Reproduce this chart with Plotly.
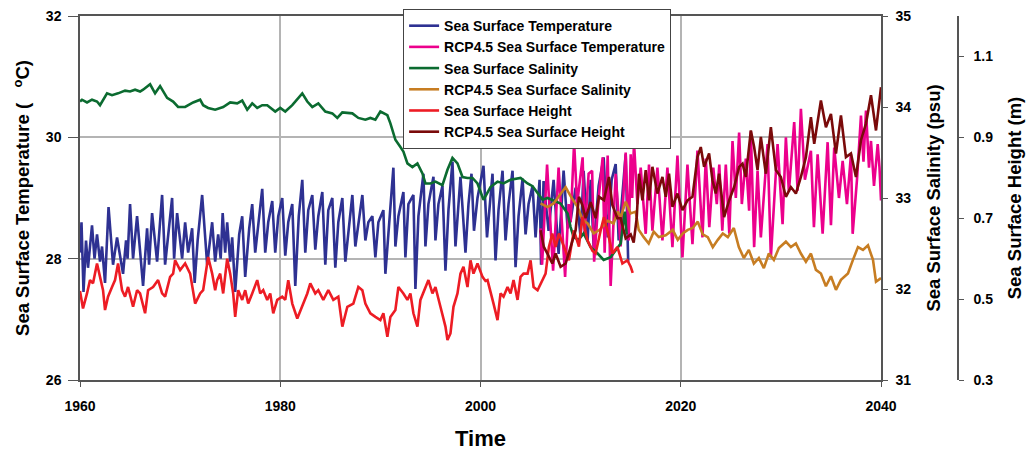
import plotly.graph_objects as go

# ---------------- data ----------------
sst_year = [1960.0, 1960.15, 1960.35, 1960.6, 1960.8, 1961.2, 1961.45, 1961.7, 1962.0, 1962.2, 1962.5, 1962.85,
            1963.3, 1963.7, 1964.3, 1964.6, 1964.75, 1965.0, 1965.3, 1965.7, 1966.3, 1966.7, 1966.9, 1967.2,
            1967.7, 1968.2, 1968.5, 1968.9, 1969.2, 1969.4, 1969.7, 1970.2, 1970.5, 1970.8, 1971.2, 1971.45,
            1971.75, 1972.2, 1972.7, 1973.2, 1973.5, 1973.8, 1974.05, 1974.25, 1974.5, 1974.7, 1975.0, 1975.2,
            1975.5, 1975.9, 1976.2, 1976.5, 1976.9, 1977.2, 1977.5, 1977.8, 1978.2, 1978.5, 1978.8, 1979.2,
            1979.5, 1979.8, 1980.2, 1980.5, 1980.8, 1981.2, 1981.5, 1981.85, 1982.2, 1982.5, 1982.8, 1983.2,
            1983.5, 1983.8, 1984.2, 1984.5, 1984.8, 1985.2, 1985.5, 1985.8, 1986.2, 1986.5, 1986.8, 1987.2,
            1987.5, 1987.8, 1988.2, 1988.5, 1988.8, 1989.2, 1989.5, 1989.8, 1990.3, 1990.5, 1990.9, 1991.3,
            1991.5, 1991.8, 1992.3, 1992.5, 1992.8, 1993.3, 1993.5, 1993.8, 1994.3, 1994.5, 1994.8, 1995.3,
            1995.5, 1995.8, 1996.2, 1996.5, 1996.8, 1997.2, 1997.5, 1997.8, 1998.0, 1998.5, 1998.8, 1999.1,
            1999.35, 1999.7, 2000.3, 2000.65, 2000.9, 2001.2, 2001.5, 2001.8, 2002.2, 2002.5, 2002.8, 2003.2,
            2003.5, 2003.8, 2004.2, 2004.5, 2004.8, 2005.2, 2005.5, 2005.9, 2006.05, 2006.3, 2006.8, 2007.3,
            2007.8, 2008.3, 2008.7, 2009.0, 2009.5, 2010.0, 2010.3, 2010.7, 2011.0, 2011.3, 2011.8, 2012.3,
            2012.7, 2013.1, 2013.5, 2013.8, 2014.5, 2014.75]
sst_val = [28.1, 28.6, 27.45, 28.3, 27.85, 28.55, 28.0, 28.4, 27.95, 28.2, 27.6, 28.85,
           27.9, 28.35, 27.75, 28.3, 28.0, 28.9, 28.0, 28.7, 27.55, 28.5, 27.9, 28.75,
           27.95, 29.05, 27.9, 28.6, 29.0, 28.0, 28.75, 28.0, 28.6, 28.1, 28.5, 27.6,
           28.3, 29.05, 27.9, 28.6, 27.95, 28.4, 28.0, 28.75, 28.1, 28.6, 27.95, 28.35,
           27.45, 28.4, 28.7, 27.7, 28.5, 28.9, 28.1, 28.55, 29.15, 28.1, 28.6, 28.95,
           28.1, 28.7, 29.0, 28.05, 28.6, 28.9, 27.55, 28.7, 29.3, 28.1, 28.8, 29.05,
           28.15, 28.7, 29.1, 27.9, 28.8, 29.0, 27.85, 28.6, 29.0, 27.95, 28.4, 29.05,
           28.2, 28.6, 29.05, 28.3, 28.6, 28.7, 28.02, 28.6, 28.8, 27.75, 28.6, 29.5,
           28.2, 28.7, 29.1, 28.02, 28.9, 29.05, 27.5, 28.7, 29.4, 28.2, 28.9, 29.35,
           28.3, 28.9, 29.2, 27.8, 28.8, 29.6, 28.2, 29.0, 29.35, 28.1, 28.9, 29.4,
           28.46, 29.0, 29.53, 28.35, 28.9, 29.4, 27.97, 28.8, 29.45, 28.3, 28.9, 29.45,
           27.86, 28.7, 29.32, 28.4, 28.9, 29.2, 28.35, 29.3, 27.9, 29.28, 28.46, 29.3,
           28.08, 29.45, 28.5, 28.63, 29.17, 28.35, 29.45, 28.3, 29.3, 28.19, 29.2, 29.67,
           28.35, 29.3, 29.56, 28.3, 29.72, 27.95]

rcp_sst_year = [2006.0, 2006.15, 2006.65, 2007.25, 2007.8, 2008.45, 2008.8, 2009.0, 2009.35, 2009.65, 2010.2,
                2010.4, 2010.8, 2011.15, 2011.35, 2011.8, 2012.2, 2012.4, 2012.7, 2013.0, 2013.5, 2014.0,
                2014.5, 2014.8, 2015.0, 2015.15, 2015.33, 2015.67, 2016.0, 2016.5, 2016.83, 2017.17, 2017.67,
                2018.17, 2018.67, 2019.17, 2019.67, 2020.17, 2020.67, 2021.17, 2021.67, 2022.17, 2022.5,
                2022.85, 2023.25, 2023.6, 2023.85, 2024.15, 2024.5, 2024.85, 2025.17, 2025.5, 2025.83,
                2026.1, 2026.5, 2026.83, 2027.0, 2027.33, 2027.67, 2028.0, 2028.67, 2029.0, 2029.67,
                2030.17, 2030.5, 2030.8, 2031.33, 2031.67, 2032.0, 2032.4, 2033.0, 2033.3, 2033.67,
                2034.17, 2034.67, 2035.0, 2035.33, 2035.8, 2036.17, 2036.6, 2037.0, 2037.17, 2037.6,
                2038.0, 2038.25, 2038.5, 2038.8, 2039.0, 2039.3, 2039.67, 2039.85, 2040.0]
rcp_sst_val = [28.5, 27.9, 29.55, 27.8, 29.5, 27.7, 28.9, 28.6, 29.92, 28.9, 29.67,
               28.41, 29.4, 29.45, 27.95, 29.0, 29.67, 28.1, 29.7, 27.55, 29.4, 28.2,
               29.75, 28.3, 29.72, 29.0, 29.92, 28.9, 29.5, 28.41, 29.55, 28.46, 29.5,
               28.3, 29.5, 28.19, 29.7, 28.02, 29.55, 28.24, 29.78, 28.35, 29.65,
               28.52, 29.5, 28.9, 29.55, 28.46, 29.55, 28.41, 29.94, 29.0, 30.08,
               28.9, 29.65, 28.79, 30.1, 28.19, 29.45, 28.35, 29.89, 28.02, 29.89,
               28.57, 30.0, 29.1, 30.25, 29.12, 30.47, 29.3, 29.78, 28.52, 29.72,
               28.41, 29.92, 28.55, 29.83, 29.0, 29.61, 28.9, 29.72, 28.41, 29.3,
               30.36, 29.6, 30.44, 29.5, 29.94, 29.2, 29.89, 29.5, 28.96]

sal_year = [1960.0, 1960.2, 1960.7, 1961.2, 1961.7, 1962.0, 1962.7, 1963.2, 1963.8, 1964.5, 1965.0, 1965.5,
            1966.0, 1966.3, 1967.0, 1967.5, 1968.0, 1968.7, 1969.3, 1969.8, 1970.5, 1971.3, 1972.0, 1972.3,
            1972.8, 1973.5, 1974.3, 1975.0, 1975.7, 1976.2, 1976.7, 1977.2, 1977.7, 1978.2, 1978.7, 1979.5,
            1980.0, 1980.5, 1981.2, 1981.7, 1982.2, 1982.7, 1983.2, 1983.8, 1984.5, 1985.2, 1985.7, 1986.2,
            1986.8, 1987.2, 1987.8, 1988.5, 1989.0, 1989.5, 1990.0, 1990.7, 1991.0, 1991.5, 1992.0, 1992.3,
            1992.7, 1993.2, 1993.7, 1994.2, 1994.5, 1995.0, 1995.5, 1996.2, 1996.7, 1997.2, 1997.7, 1998.2,
            1998.7, 1999.2, 1999.7, 2000.3, 2001.0, 2001.7, 2002.3, 2003.0, 2004.0, 2004.7, 2005.2, 2005.7,
            2006.2, 2006.7, 2007.3, 2008.0, 2008.7, 2009.0, 2009.3, 2009.8, 2010.3, 2011.0, 2011.7, 2012.3,
            2013.0, 2013.7, 2014.0, 2014.4, 2014.6]
sal_val = [34.06, 34.08, 34.05, 34.08, 34.06, 34.02, 34.15, 34.13, 34.15, 34.18, 34.17, 34.19,
           34.17, 34.19, 34.25, 34.15, 34.23, 34.1, 34.06, 34.0, 34.0, 34.05, 34.08, 34.02,
           33.99, 33.97, 34.0, 34.05, 34.04, 34.07, 33.97, 34.04, 33.99, 34.02, 34.02, 33.95,
           33.99, 33.95, 34.02, 34.08, 34.15, 34.06, 34.0, 34.04, 33.95, 33.93, 33.88, 33.94,
           33.93, 33.93, 33.88, 33.86, 33.88, 33.86, 33.95, 33.91, 33.82, 33.64, 33.56, 33.51,
           33.38, 33.34, 33.38, 33.27, 33.16, 33.16, 33.18, 33.14, 33.31, 33.44, 33.38, 33.23,
           33.22, 33.22, 33.16, 32.98, 33.12, 33.18, 33.16, 33.2, 33.22, 33.16, 33.13, 33.05,
           32.98, 33.0, 32.97, 32.94, 32.83, 32.68, 32.57, 32.54, 32.61, 32.46, 32.39, 32.32,
           32.35, 32.45, 32.5, 32.85, 32.6]

rcp_sal_year = [2006.0, 2006.7, 2007.3, 2008.0, 2008.5, 2009.0, 2009.7, 2010.2, 2010.7, 2011.3, 2011.9,
                2012.7, 2013.3, 2013.7, 2014.0, 2014.5, 2015.0, 2015.5, 2015.8, 2016.3, 2016.8, 2017.3,
                2017.8, 2018.5, 2019.2, 2019.7, 2020.2, 2020.7, 2021.2, 2021.7, 2022.2, 2022.7, 2023.2,
                2023.7, 2024.2, 2024.7, 2025.3, 2025.8, 2026.3, 2026.8, 2027.3, 2027.8, 2028.3, 2028.8,
                2029.3, 2029.8, 2030.5, 2031.0, 2031.5, 2032.0, 2032.5, 2033.0, 2033.5, 2034.0, 2034.5,
                2035.0, 2035.5, 2036.0, 2036.7, 2037.2, 2037.7, 2038.2, 2038.7, 2039.2, 2039.5, 2040.0]
rcp_sal_val = [32.94, 32.9, 32.94, 33.05, 33.12, 33.02, 32.9, 32.76, 32.72, 32.61, 32.65,
               32.75, 32.72, 32.85, 32.79, 32.96, 32.83, 32.85, 32.65, 32.57, 32.5, 32.63,
               32.57, 32.59, 32.65, 32.54, 32.61, 32.65, 32.67, 32.74, 32.6, 32.57, 32.46,
               32.54, 32.61, 32.57, 32.67, 32.46, 32.34, 32.43, 32.28, 32.34, 32.23, 32.39,
               32.32, 32.45, 32.52, 32.46, 32.5, 32.39, 32.3, 32.39, 32.21, 32.17, 32.03,
               32.14, 31.99, 32.1, 32.17, 32.32, 32.46, 32.43, 32.48, 32.32, 32.08, 32.12]

ssh_year = [1960.0, 1960.3, 1960.7, 1961.0, 1961.3, 1961.7, 1962.0, 1962.3, 1962.5, 1962.8, 1963.2, 1963.5,
            1963.8, 1964.2, 1964.5, 1964.8, 1965.3, 1965.7, 1966.0, 1966.5, 1966.8, 1967.3, 1967.8, 1968.2,
            1968.5, 1969.0, 1969.3, 1969.5, 1970.0, 1970.5, 1971.0, 1971.5, 1972.0, 1972.3, 1972.8, 1973.2,
            1973.5, 1973.7, 1974.0, 1974.3, 1974.7, 1975.0, 1975.3, 1975.5, 1975.8, 1976.2, 1976.5, 1976.8,
            1977.2, 1977.7, 1978.0, 1978.3, 1978.7, 1979.0, 1979.3, 1979.7, 1980.2, 1980.5, 1980.8, 1981.2,
            1981.7, 1982.2, 1982.7, 1983.0, 1983.5, 1983.8, 1984.3, 1984.8, 1985.3, 1985.8, 1986.2, 1986.7,
            1987.3, 1987.8, 1988.2, 1988.5, 1989.0, 1989.5, 1990.0, 1990.3, 1990.7, 1991.0, 1991.5, 1991.8,
            1992.3, 1992.7, 1993.0, 1993.3, 1993.7, 1994.0, 1994.5, 1994.8, 1995.2, 1995.5, 1996.0, 1996.5,
            1996.7, 1997.0, 1997.3, 1997.7, 1998.0, 1998.3, 1998.7, 1999.0, 1999.3, 1999.7, 2000.2, 2000.5,
            2000.7, 2001.0, 2001.3, 2001.7, 2002.0, 2002.3, 2002.7, 2003.0, 2003.3, 2003.7, 2004.0, 2004.3,
            2004.7, 2005.0, 2005.3, 2005.7, 2006.0, 2006.5, 2006.83, 2007.17, 2007.5, 2007.83, 2008.33,
            2008.83, 2009.33, 2009.83, 2010.17, 2010.67, 2011.17, 2011.5, 2012.0, 2012.33, 2012.67, 2013.17,
            2013.67, 2014.17, 2014.67, 2015.0, 2015.2]
ssh_val = [0.52, 0.477, 0.514, 0.547, 0.539, 0.588, 0.555, 0.522, 0.473, 0.506, 0.53, 0.547,
           0.588, 0.522, 0.506, 0.53, 0.481, 0.522, 0.514, 0.465, 0.522, 0.53, 0.547, 0.514,
           0.506, 0.555, 0.563, 0.596, 0.572, 0.588, 0.563, 0.489, 0.514, 0.522, 0.604, 0.563,
           0.522, 0.547, 0.563, 0.514, 0.6, 0.563, 0.514, 0.456, 0.522, 0.498, 0.522, 0.489,
           0.514, 0.547, 0.514, 0.522, 0.498, 0.514, 0.465, 0.498, 0.506, 0.498, 0.547, 0.489,
           0.452, 0.481, 0.514, 0.539, 0.514, 0.522, 0.498, 0.522, 0.498, 0.506, 0.432, 0.481,
           0.489, 0.53, 0.522, 0.489, 0.465, 0.456, 0.448, 0.465, 0.407, 0.456, 0.473, 0.53,
           0.514, 0.498, 0.514, 0.465, 0.432, 0.498, 0.53, 0.547, 0.514, 0.53, 0.481, 0.432,
           0.399, 0.415, 0.481, 0.514, 0.563, 0.58, 0.53, 0.596, 0.563, 0.588, 0.555, 0.545,
           0.547, 0.514, 0.489, 0.448, 0.514, 0.506, 0.53, 0.514, 0.547, 0.498, 0.555, 0.563,
           0.563, 0.596, 0.53, 0.522, 0.539, 0.563, 0.629, 0.662, 0.629, 0.662, 0.63,
           0.596, 0.67, 0.63, 0.703, 0.646, 0.62, 0.613, 0.67, 0.703, 0.67, 0.613,
           0.629, 0.588, 0.596, 0.58, 0.565]

rcp_ssh_year = [2006.0, 2006.33, 2006.67, 2007.17, 2007.5, 2008.0, 2008.5, 2009.0, 2009.5, 2009.83, 2010.17,
                2010.5, 2011.0, 2011.5, 2011.83, 2012.33, 2012.83, 2013.17, 2013.67, 2014.0, 2014.5, 2015.0,
                2015.3, 2015.6, 2015.83, 2016.17, 2016.5, 2016.83, 2017.17, 2017.67, 2018.17, 2018.5, 2018.83,
                2019.17, 2019.67, 2020.17, 2020.67, 2021.17, 2021.67, 2022.0, 2022.33, 2022.83, 2023.17,
                2023.5, 2023.83, 2024.33, 2024.83, 2025.33, 2025.83, 2026.17, 2026.5, 2027.0, 2027.33,
                2027.67, 2028.0, 2028.5, 2029.0, 2029.5, 2030.0, 2030.5, 2031.0, 2031.5, 2032.0, 2032.5,
                2033.0, 2033.33, 2034.0, 2034.5, 2035.0, 2035.5, 2036.0, 2036.5, 2037.0, 2037.5, 2038.0,
                2038.5, 2039.0, 2039.5, 2039.8, 2040.0]
rcp_ssh_val = [0.67, 0.629, 0.613, 0.588, 0.613, 0.58, 0.588, 0.629, 0.67, 0.753, 0.733,
               0.7, 0.74, 0.7, 0.753, 0.745, 0.802, 0.733, 0.7, 0.7, 0.65, 0.66,
               0.64, 0.7, 0.81, 0.744, 0.819, 0.744, 0.827, 0.761, 0.802, 0.753, 0.81,
               0.728, 0.761, 0.72, 0.744, 0.753, 0.851, 0.876, 0.827, 0.86, 0.794,
               0.761, 0.81, 0.703, 0.744, 0.777, 0.827, 0.835, 0.802, 0.917, 0.876,
               0.819, 0.901, 0.81, 0.925, 0.819, 0.802, 0.753, 0.777, 0.761, 0.802, 0.851,
               0.95, 0.884, 0.991, 0.925, 0.958, 0.86, 0.954, 0.851, 0.86, 0.802, 0.893,
               0.934, 1.004, 0.917, 0.99, 1.024]

x_ticks = [1960, 1980, 2000, 2020, 2040]
sst_ticks = [26, 28, 30, 32]
sal_ticks = [31, 32, 33, 34, 35]
ssh_ticks = [0.3, 0.5, 0.7, 0.9, 1.1]

# ---------------- figure ----------------
FONT = "Liberation Sans, Arial, Helvetica, sans-serif"
AXC = "#555555"
GRID = "#b4b4b4"
LW = 2.6

fig = go.Figure()
fig.add_trace(go.Scatter(x=sst_year, y=sst_val, name="Sea Surface Temperature", mode="lines",
                         line=dict(color="#2e3192", width=LW), yaxis="y"))
fig.add_trace(go.Scatter(x=rcp_sst_year, y=rcp_sst_val, name="RCP4.5 Sea Surface Temperature", mode="lines",
                         line=dict(color="#ec008c", width=LW), yaxis="y"))
fig.add_trace(go.Scatter(x=sal_year, y=sal_val, name="Sea Surface Salinity", mode="lines",
                         line=dict(color="#0b6b30", width=LW), yaxis="y2"))
fig.add_trace(go.Scatter(x=rcp_sal_year, y=rcp_sal_val, name="RCP4.5 Sea Surface Salinity", mode="lines",
                         line=dict(color="#c77d22", width=LW), yaxis="y2"))
fig.add_trace(go.Scatter(x=ssh_year, y=ssh_val, name="Sea Surface Height", mode="lines",
                         line=dict(color="#ed1c24", width=LW), yaxis="y3"))
fig.add_trace(go.Scatter(x=rcp_ssh_year, y=rcp_ssh_val, name="RCP4.5 Sea Surface Height", mode="lines",
                         line=dict(color="#7a0a0a", width=LW), yaxis="y3"))

tickfont = dict(family=FONT, size=14, color="#000000", weight="bold")
titlefont = dict(family=FONT, size=18.5, color="#000000", weight="bold")

fig.update_layout(
    width=1031, height=451,
    margin=dict(l=80, r=73, t=16, b=71, autoexpand=False),
    plot_bgcolor="white", paper_bgcolor="white",
    font=dict(family=FONT, color="#000000"),
    showlegend=True,
    legend=dict(x=0.368, y=1.019, xanchor="left", yanchor="top",
                bgcolor="white", bordercolor="#444444", borderwidth=1,
                font=dict(family=FONT, size=14, color="#000000", weight="bold"),
                tracegroupgap=0),
    xaxis=dict(domain=[0, 0.9123], range=[1960, 2040], tickvals=x_ticks,
               showgrid=True, gridcolor=GRID, gridwidth=2, zeroline=False,
               showline=True, linecolor=AXC, linewidth=1.5, mirror=True,
               ticks="outside", ticklen=5, tickcolor=AXC, tickfont=tickfont,
               ticklabelstandoff=7,
               title=dict(text="Time", font=dict(family=FONT, size=22, color="#000000", weight="bold"),
                          standoff=21)),
    yaxis=dict(range=[26, 32], tickvals=sst_ticks,
               showgrid=True, gridcolor=GRID, gridwidth=2, zeroline=False,
               showline=True, linecolor=AXC, linewidth=1.5,
               ticks="outside", ticklen=10, tickcolor=AXC, tickfont=tickfont,
               ticklabelstandoff=4,
               title=dict(text="Sea Surface Temperature (   <sup>o</sup>C)", font=titlefont, standoff=11)),
    yaxis2=dict(range=[31, 35], tickvals=sal_ticks, overlaying="y", side="right", anchor="x",
                showgrid=False, zeroline=False,
                showline=True, linecolor=AXC, linewidth=1.5,
                ticks="outside", ticklen=5, tickcolor=AXC, tickfont=tickfont,
                ticklabelstandoff=5,
                title=dict(text="Sea Surface Salinity (psu)", font=titlefont, standoff=17)),
    yaxis3=dict(range=[0.3, 1.2], tickvals=ssh_ticks, tickformat=".1f",
                overlaying="y", side="right", anchor="free", position=1.0,
                showgrid=False, zeroline=False,
                showline=True, linecolor=AXC, linewidth=1.5,
                ticks="outside", ticklen=5, tickcolor=AXC, tickfont=tickfont,
                ticklabelstandoff=7,
                title=dict(text="Sea Surface Height (m)", font=titlefont, standoff=15)),
)

fig.write_html("out.html", config={"displayModeBar": False},
               post_script="document.body.style.margin='0px';")
